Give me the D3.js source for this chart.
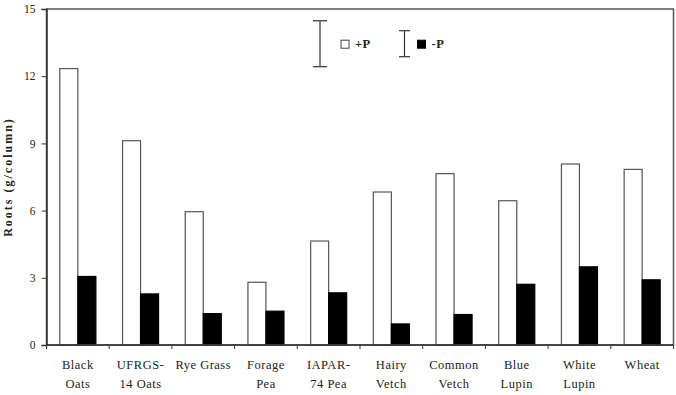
<!DOCTYPE html>
<html>
<head>
<meta charset="utf-8">
<script src="https://cdn.jsdelivr.net/npm/d3@7"></script>
<style>
  body { margin: 0; background: #fff; }
  svg { display: block; font-family: "Liberation Serif", "Times New Roman", serif; }
</style>
</head>
<body>
<div id="chart"></div>
<script>
// Data
const categories = [
  ['Black', 'Oats'], ['UFRGS-', '14 Oats'], ['Rye Grass', ''], ['Forage', 'Pea'],
  ['IAPAR-', '74 Pea'], ['Hairy', 'Vetch'], ['Common', 'Vetch'], ['Blue', 'Lupin'],
  ['White', 'Lupin'], ['Wheat', '']
];
const series = ['+P', '-P'];
const plusP = [12.34, 9.12, 5.95, 2.80, 4.64, 6.83, 7.65, 6.44, 8.08, 7.84];
const minusP = [3.06, 2.28, 1.40, 1.51, 2.33, 0.94, 1.36, 2.71, 3.49, 2.91];
const lsdBars = [2.05, 1.16]; // error bars shown in the legend
const yTicks = [0, 3, 6, 9, 12, 15];

const width = 676;
const height = 395;
const margin = { top: 9, right: 2.5, bottom: 50, left: 46.5 };
const innerW = width - margin.left - margin.right;
const innerH = height - margin.top - margin.bottom;

const svg = d3.select('#chart')
  .append('svg')
  .attr('width', width)
  .attr('height', height);

const g = svg.append('g')
  .attr('transform', `translate(${margin.left},${margin.top})`);

// Scales
const keys = categories.map((_, i) => i);
const x = d3.scaleBand().domain(keys).range([0, innerW]).padding(0);
const xs = d3.scaleBand().domain(series).range([0, x.bandwidth()])
  .paddingInner(0).paddingOuter(0.74);
const y = d3.scaleLinear().domain([0, 15]).range([innerH, 0]);

const rows = keys.map((i) => ({ i, values: [plusP[i], minusP[i]] }));

// Bars
const groups = g.selectAll('.grp')
  .data(rows)
  .enter()
  .append('g')
  .attr('transform', (d) => `translate(${x(d.i)},0)`);

groups.selectAll('rect')
  .data((d) => d.values.map((v, k) => ({ key: series[k], v })))
  .enter()
  .append('rect')
  .attr('x', (d) => xs(d.key))
  .attr('y', (d) => y(d.v))
  .attr('width', xs.bandwidth())
  .attr('height', (d) => y(0) - y(d.v))
  .attr('fill', (d) => (d.key === '+P' ? '#fff' : '#000'))
  .attr('stroke', (d) => (d.key === '+P' ? '#555' : '#000'))
  .attr('stroke-width', 1.2);

// Frame
g.append('rect')
  .attr('x', 0).attr('y', 0)
  .attr('width', innerW).attr('height', innerH)
  .attr('fill', 'none')
  .attr('stroke', '#555')
  .attr('stroke-width', 1.5);

// Y axis
const yAxis = g.append('g')
  .call(d3.axisLeft(y).tickValues(yTicks).tickSize(5).tickPadding(6));
yAxis.select('.domain').attr('stroke', '#333').attr('stroke-width', 1.5);
yAxis.selectAll('.tick line').attr('stroke', '#333');
yAxis.selectAll('text')
  .attr('font-family', '"Liberation Serif", serif')
  .attr('font-size', 11.5)
  .attr('fill', '#222');

// X axis ticks at category boundaries
const xAxis = g.append('g').attr('transform', `translate(0,${innerH})`);
xAxis.append('line')
  .attr('x1', 0).attr('x2', innerW)
  .attr('stroke', '#333').attr('stroke-width', 1.5);
xAxis.selectAll('.xt')
  .data(keys.concat([keys.length]))
  .enter()
  .append('line')
  .attr('x1', (i) => (i < keys.length ? x(i) : innerW))
  .attr('x2', (i) => (i < keys.length ? x(i) : innerW))
  .attr('y1', 0).attr('y2', 4)
  .attr('stroke', '#333');

// X labels, two lines
const labels = xAxis.selectAll('.xl')
  .data(rows)
  .enter()
  .append('text')
  .attr('text-anchor', 'middle')
  .attr('font-size', 12.5)
  .attr('letter-spacing', 0.5)
  .attr('fill', '#222');
labels.append('tspan')
  .attr('x', (d) => x(d.i) + x.bandwidth() / 2)
  .attr('y', 24)
  .text((d) => categories[d.i][0]);
labels.append('tspan')
  .attr('x', (d) => x(d.i) + x.bandwidth() / 2)
  .attr('y', 43)
  .text((d) => categories[d.i][1]);

// Y axis title
svg.append('text')
  .attr('transform', `translate(11.5,${margin.top + innerH / 2}) rotate(-90)`)
  .attr('text-anchor', 'middle')
  .attr('font-size', 12)
  .attr('font-weight', 'bold')
  .attr('letter-spacing', 2)
  .attr('fill', '#222')
  .text('Roots (g/column)');

// Legend with error bars
const legend = svg.append('g').attr('transform', 'translate(0,43.7)');
const legendItems = [
  { key: '+P', lsd: lsdBars[0], barX: 320, boxX: 341, cap: 7 },
  { key: '-P', lsd: lsdBars[1], barX: 404.5, boxX: 417.5, cap: 5.5 }
];
legendItems.forEach((d) => {
  const half = (y(0) - y(d.lsd)) / 2;
  legend.append('line')
    .attr('x1', d.barX).attr('x2', d.barX)
    .attr('y1', -half).attr('y2', half)
    .attr('stroke', '#333').attr('stroke-width', 1.2);
  [-half, half].forEach((yy) => {
    legend.append('line')
      .attr('x1', d.barX - d.cap).attr('x2', d.barX + d.cap)
      .attr('y1', yy).attr('y2', yy)
      .attr('stroke', '#333').attr('stroke-width', 1.2);
  });
  legend.append('rect')
    .attr('x', d.boxX).attr('y', -3.5)
    .attr('width', 8).attr('height', 8)
    .attr('fill', d.key === '+P' ? '#fff' : '#000')
    .attr('stroke', d.key === '+P' ? '#444' : '#000');
  legend.append('text')
    .attr('x', d.boxX + 14).attr('y', 4.5)
    .attr('font-size', 12.5)
    .attr('font-weight', 'bold')
    .attr('letter-spacing', 0.5)
    .attr('fill', '#222')
    .text(d.key);
});
</script>
</body>
</html>
